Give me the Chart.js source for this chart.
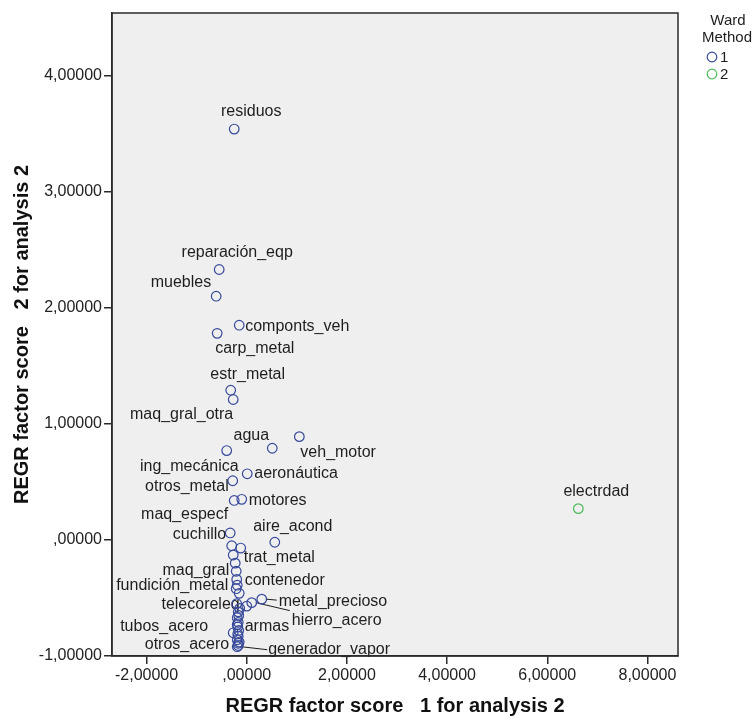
<!DOCTYPE html>
<html>
<head>
<meta charset="utf-8">
<script src="https://cdn.jsdelivr.net/npm/chart.js@4/dist/chart.umd.min.js"></script>
<style>
  html, body { margin: 0; padding: 0; background: #ffffff; }
  canvas { display: block; }
</style>
</head>
<body>
<canvas id="chart" width="752" height="724"></canvas>
<script>
// Sector names (null = point drawn without a label)
const sectors = [
  'residuos', 'reparación_eqp', 'muebles', 'componts_veh', 'carp_metal',
  'estr_metal', 'maq_gral_otra', 'veh_motor', 'agua', 'ing_mecánica',
  'aeronáutica', 'otros_metal', 'motores', 'maq_especf', 'cuchillo',
  'aire_acond', 'trat_metal', null, null, 'maq_gral',
  null, 'contenedor', 'fundición_metal', null, 'metal_precioso',
  'hierro_acero', null, 'telecoreleq', null, null,
  null, 'armas', 'tubos_acero', null, null,
  'otros_acero', 'generador_vapor', null, null, null,
  null, null, null, null, null,
  'electrdad'
];

// REGR factor score 1 for analysis 2
const score1 = [
  -0.25, -0.55, -0.61, -0.15, -0.59,
  -0.32, -0.27, 1.05, 0.51, -0.40,
  0.01, -0.28, -0.10, -0.25, -0.33,
  0.56, -0.12, -0.30, -0.27, -0.23,
  -0.21, -0.20, -0.19, -0.15, 0.30,
  0.10, 0.00, -0.20, -0.17, -0.19,
  -0.17, -0.18, -0.27, -0.17, -0.19,
  -0.17, -0.19, -0.14, -0.16, -0.19,
  -0.16, -0.18, -0.15, -0.17, -0.21,
  6.62
];

// REGR factor score 2 for analysis 2
const score2 = [
  3.54, 2.33, 2.10, 1.85, 1.78,
  1.29, 1.21, 0.89, 0.79, 0.77,
  0.57, 0.51, 0.35, 0.34, 0.06,
  -0.02, -0.07, -0.05, -0.13, -0.20,
  -0.27, -0.34, -0.39, -0.46, -0.51,
  -0.54, -0.57, -0.55, -0.62, -0.67,
  -0.71, -0.75, -0.80, -0.83, -0.86,
  -0.89, -0.92, -0.59, -0.65, -0.73,
  -0.78, -0.81, -0.88, -0.91, -0.42,
  0.27
];

// Ward Method cluster membership
const wardCluster = [
  1, 1, 1, 1, 1, 1, 1, 1, 1, 1,
  1, 1, 1, 1, 1, 1, 1, 1, 1, 1,
  1, 1, 1, 1, 1, 1, 1, 1, 1, 1,
  1, 1, 1, 1, 1, 1, 1, 1, 1, 1,
  1, 1, 1, 1, 1, 2
];

const clusterNames = ['1', '2'];
const xTicks = [-2, 0, 2, 4, 6, 8];
const yTicks = [-1, 0, 1, 2, 3, 4];

// Label placement: [textAlign, dx, dy, optional leader end offset]
const labelPlacement = {
  'residuos':        ['center', 17, -17],
  'reparación_eqp':  ['center', 18, -17],
  'muebles':         ['right', -5, -14],
  'componts_veh':    ['left', 6, 1],
  'carp_metal':      ['left', -2, 15],
  'estr_metal':      ['center', 17, -16],
  'maq_gral_otra':   ['right', 0, 15],
  'veh_motor':       ['left', 1, 16],
  'agua':            ['center', -21, -13],
  'ing_mecánica':    ['right', 12, 16],
  'aeronáutica':     ['left', 7, 0],
  'otros_metal':     ['right', -4, 6],
  'motores':         ['left', 7, 1],
  'maq_especf':      ['right', -6, 14],
  'cuchillo':        ['right', -4, 2],
  'aire_acond':      ['center', 18, -16],
  'trat_metal':      ['left', 3, 10],
  'maq_gral':        ['right', -6, 7],
  'contenedor':      ['left', 8, 1],
  'fundición_metal': ['right', -9, 0],
  'metal_precioso':  ['left', 17, 2, [15, 1]],
  'hierro_acero':    ['left', 40, 18, [38, 8]],
  'telecoreleq':     ['right', 3, 1],
  'armas':           ['left', 7, 0],
  'tubos_acero':     ['right', -25, -6],
  'otros_acero':     ['right', -9, 1],
  'generador_vapor': ['left', 31, 3, [30, 3]],
  'electrdad':       ['center', 18, -17]
};

const FONT = '"Liberation Sans", Arial, Helvetica, sans-serif';
const clusterColors = ['#37499b', '#4dba5c'];

// SPSS-style number format: 5 decimals, comma separator, no leading zero
function spssFormat(v) {
  let s = Math.abs(v).toFixed(5).replace('.', ',');
  if (s.startsWith('0,')) s = s.slice(1);
  return (v < 0 ? '-' : '') + s;
}

const datasets = clusterNames.map((name, k) => ({
  label: name,
  data: sectors
    .map((n, i) => ({ x: score1[i], y: score2[i], c: wardCluster[i] }))
    .filter(p => p.c === k + 1),
  borderColor: clusterColors[k],
  backgroundColor: 'rgba(0,0,0,0)',
  pointStyle: 'circle',
  pointRadius: 4.8,
  pointHoverRadius: 4.8,
  pointBorderWidth: 1.2,
  showLine: false
}));

const panelPlugin = {
  id: 'panel',
  beforeDraw(chart) {
    const { ctx, chartArea: a } = chart;
    ctx.save();
    ctx.fillStyle = '#ffffff';
    ctx.fillRect(0, 0, chart.width, chart.height);
    ctx.fillStyle = '#efefef';
    ctx.fillRect(a.left, a.top, a.right - a.left, a.bottom - a.top);
    ctx.restore();
  },
  afterDraw(chart) {
    const { ctx, chartArea: a } = chart;
    ctx.save();
    ctx.strokeStyle = '#2b2b2b';
    ctx.lineWidth = 1.5;
    ctx.strokeRect(a.left, a.top, a.right - a.left, a.bottom - a.top);

    // legend
    ctx.fillStyle = '#1e1e1e';
    ctx.font = '15px ' + FONT;
    ctx.textAlign = 'center';
    ctx.textBaseline = 'middle';
    ctx.fillText('Ward', 728, 21);
    ctx.fillText('Method', 727, 38);
    clusterNames.forEach((name, k) => {
      const y = 57 + k * 17;
      ctx.strokeStyle = clusterColors[k];
      ctx.lineWidth = 1.2;
      ctx.beginPath();
      ctx.arc(712, y, 4.8, 0, Math.PI * 2);
      ctx.stroke();
      ctx.textAlign = 'left';
      ctx.fillText(name, 720, y + 1);
    });
    ctx.restore();
  }
};

const labelPlugin = {
  id: 'pointLabels',
  beforeDatasetsDraw(chart) {
    const { ctx } = chart;
    const xs = chart.scales.x, ys = chart.scales.y;
    ctx.save();
    ctx.font = '16px ' + FONT;
    ctx.fillStyle = '#1e1e1e';
    ctx.strokeStyle = '#1e1e1e';
    ctx.lineWidth = 1;
    ctx.textBaseline = 'middle';
    sectors.forEach((name, i) => {
      if (!name) return;
      const p = labelPlacement[name];
      const px = xs.getPixelForValue(score1[i]);
      const py = ys.getPixelForValue(score2[i]);
      if (p[3]) {
        ctx.beginPath();
        ctx.moveTo(px + 4, py);
        ctx.lineTo(px + p[3][0], py + p[3][1]);
        ctx.stroke();
      }
      ctx.textAlign = p[0];
      ctx.fillText(name, px + p[1], py + p[2]);
    });
    ctx.restore();
  }
};

new Chart(document.getElementById('chart'), {
  type: 'scatter',
  data: { datasets },
  plugins: [panelPlugin, labelPlugin],
  options: {
    responsive: false,
    animation: false,
    events: [],
    layout: { padding: { left: 0, right: 74, top: 13, bottom: 0 } },
    plugins: {
      legend: { display: false },
      tooltip: { enabled: false }
    },
    scales: {
      x: {
        type: 'linear',
        min: -2.69,
        max: 8.61,
        afterBuildTicks: s => { s.ticks = xTicks.map(v => ({ value: v })); },
        afterFit: s => { s.height = 68; },
        ticks: {
          callback: v => spssFormat(v),
          font: { family: FONT, size: 16 },
          color: '#222222',
          padding: 2,
          maxRotation: 0,
          autoSkip: false
        },
        grid: { display: true, drawOnChartArea: false, drawTicks: true, tickLength: 8, color: '#2b2b2b', lineWidth: 1.5 },
        border: { display: true, color: '#2b2b2b', width: 1.5 },
        title: {
          display: true,
          text: 'REGR factor score   1 for analysis 2',
          font: { family: FONT, size: 20, weight: 'bold' },
          color: '#111111',
          padding: { top: 0, bottom: 6 }
        }
      },
      y: {
        type: 'linear',
        min: -1,
        max: 4.54,
        afterBuildTicks: s => { s.ticks = yTicks.map(v => ({ value: v })); },
        afterFit: s => { s.width = 112; },
        ticks: {
          callback: v => spssFormat(v),
          font: { family: FONT, size: 16 },
          color: '#222222',
          padding: 2,
          autoSkip: false
        },
        grid: { display: true, drawOnChartArea: false, drawTicks: true, tickLength: 8, color: '#2b2b2b', lineWidth: 1.5 },
        border: { display: true, color: '#2b2b2b', width: 1.5 },
        title: {
          display: true,
          text: 'REGR factor score   2 for analysis 2',
          font: { family: FONT, size: 20, weight: 'bold' },
          color: '#111111',
          padding: { top: 10, bottom: 0 }
        }
      }
    }
  }
});
</script>
</body>
</html>
